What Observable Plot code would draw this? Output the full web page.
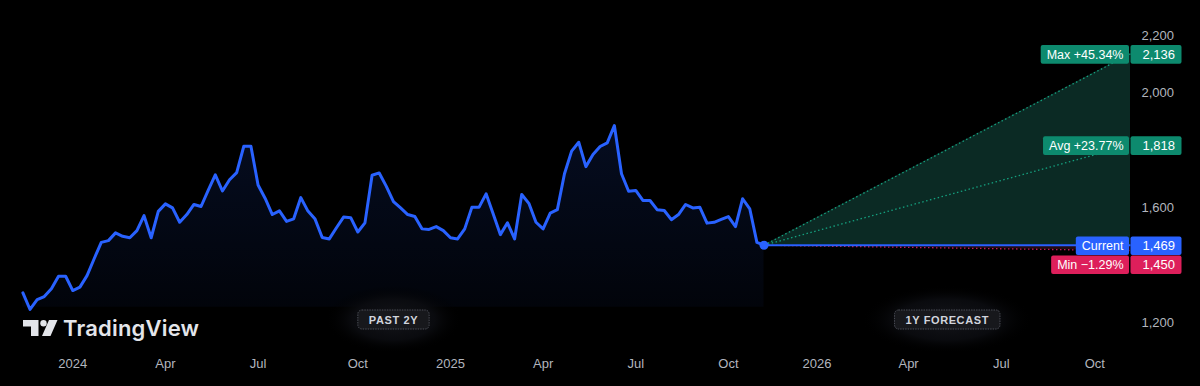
<!DOCTYPE html>
<html>
<head>
<meta charset="utf-8">
<script src="https://cdn.jsdelivr.net/npm/d3@7"></script>
<script src="https://cdn.jsdelivr.net/npm/@observablehq/plot@0.6"></script>
<style>
html, body { margin: 0; padding: 0; background: #000; }
#chart { position: relative; width: 1200px; height: 386px; overflow: hidden; background: #000; }
#chart svg { display: block; }
</style>
</head>
<body>
<div id="chart"></div>
<script>
// ---------- data ----------
const startDate = "2023-11-13";          // first weekly close shown
const prices = [
  1303, 1245, 1279, 1290, 1317, 1361, 1361, 1311, 1323, 1363,
  1422, 1479, 1485, 1512, 1500, 1495, 1520, 1572, 1495, 1587,
  1613, 1599, 1549, 1576, 1611, 1604, 1660, 1714, 1658, 1697,
  1722, 1814, 1814, 1679, 1632, 1576, 1589, 1552, 1561, 1635,
  1588, 1560, 1496, 1491, 1530, 1567, 1565, 1515, 1547, 1713,
  1721, 1674, 1621, 1599, 1576, 1569, 1526, 1524, 1534, 1520,
  1495, 1491, 1526, 1601, 1601, 1648, 1578, 1506, 1547, 1491,
  1646, 1615, 1549, 1526, 1581, 1593, 1718, 1797, 1828, 1743,
  1785, 1813, 1826, 1886, 1718, 1657, 1660, 1625, 1625, 1593,
  1590, 1558, 1576, 1611, 1599, 1601, 1546, 1549, 1559, 1569,
  1534, 1631, 1596, 1479, 1469
];
const forecastEnd = "2026-11-05";
const forecastKinds  = ["max", "avg", "current", "min"];
const forecastLabels = ["Max +45.34%", "Avg +23.77%", "Current", "Min \u22121.29%"];
const forecastValues = [2136, 1818, 1469, 1450];
const historyFloor = 1253;
const yTicks = [1200, 1600, 2000, 2200];
const xTickDates  = ["2024-01-01","2024-04-01","2024-07-01","2024-10-07","2025-01-06","2025-04-07",
                     "2025-07-07","2025-10-06","2026-01-01","2026-04-01","2026-07-01","2026-10-01"];
const xTickLabels = ["2024","Apr","Jul","Oct","2025","Apr","Jul","Oct","2026","Apr","Jul","Oct"];
const periodLabels = ["PAST 2Y", "1Y FORECAST"];

// ---------- layout / style ----------
const W = 1200, H = 386;
const mTop = 0, mBottom = 40, mLeft = 0, mRight = 70;
const xDomain = [new Date("2023-10-22"), new Date(forecastEnd)];
const yDomain = [1116, 2322];
const boxColor  = {max: "#0d8a6e", avg: "#0d8a6e", current: "#2962ff", min: "#dd1f5b"};
const lineColor = {max: "#15a07f", avg: "#15a07f", min: "#c2185b"};
const font = "'Liberation Sans', Arial, sans-serif";

// ---------- derived tables ----------
const dates = prices.map((_, i) => d3.utcDay.offset(new Date(startDate), 7 * i));
const hist = prices.map((p, i) => ({date: dates[i], price: p}));
const lastDate = dates[dates.length - 1];
const endDate = new Date(forecastEnd);
const cur = prices[prices.length - 1];
const fc = forecastKinds.map((kind, i) => ({kind, label: forecastLabels[i], value: forecastValues[i]}));
const byKind = Object.fromEntries(fc.map(d => [d.kind, d]));
const fan = [
  {date: lastDate, lo: cur, mid: cur, hi: cur},
  {date: endDate, lo: byKind.min.value, mid: cur, hi: byKind.max.value}
];
const rays = fc.filter(d => d.kind !== "current");

// label de-overlap (pixel space computed with a d3 scale mirroring Plot's y scale)
const ys = d3.scaleLinear().domain(yDomain).range([H - mBottom, mTop]);
let prev = -Infinity;
fc.forEach(d => {
  let c = ys(d.value) + 1;
  if (c < prev + 19) c = prev + 19;
  prev = c;
  d.ty = ys.invert(c);
});

const tickLabelMap = new Map(xTickDates.map((d, i) => [+new Date(d), xTickLabels[i]]));
const periods = [
  {label: periodLabels[0], date: new Date((+dates[0] + +lastDate) / 2)},
  {label: periodLabels[1], date: new Date((+lastDate + +endDate) / 2)}
];

const chart = Plot.plot({
  width: W, height: H,
  marginTop: mTop, marginBottom: mBottom, marginLeft: mLeft, marginRight: mRight,
  style: {background: "#000", fontFamily: font, overflow: "visible"},
  x: {type: "utc", domain: xDomain},
  y: {domain: yDomain},
  marks: [
    Plot.areaY(hist, {x: "date", y1: () => historyFloor, y2: "price", fill: "url(#histGrad)"}),
    Plot.areaY(fan, {x: "date", y1: "mid", y2: "hi", fill: "#0b2a24"}),
    Plot.areaY(fan, {x: "date", y1: "lo", y2: "mid", fill: "#240a12"}),
    Plot.link(rays, {x1: () => lastDate, y1: () => cur, x2: () => endDate, y2: "value",
      stroke: d => lineColor[d.kind], strokeWidth: 1.3, strokeDasharray: "1.5,2.5"}),
    Plot.link([byKind.current], {x1: () => lastDate, y1: "value", x2: () => endDate, y2: "value",
      stroke: "#2962ff", strokeWidth: 2}),
    Plot.line(hist, {x: "date", y: "price", stroke: "#2962ff", strokeWidth: 3, strokeLinejoin: "round", strokeLinecap: "round"}),
    Plot.dot([hist[hist.length - 1]], {x: "date", y: "price", r: 4.5, fill: "#2962ff"}),
    Plot.axisY({anchor: "right", ticks: yTicks, tickSize: 0, tickPadding: 11, label: null,
      tickFormat: d3.format(","), color: "#b2b5be", fontSize: 13}),
    Plot.axisX({anchor: "bottom", ticks: xTickDates.map(d => new Date(d)), tickSize: 0, tickPadding: 12, label: null,
      tickFormat: d => tickLabelMap.get(+d), color: "#b2b5be", fontSize: 13}),
    Plot.text(periods, {x: "date", frameAnchor: "bottom", dy: -23, text: "label",
      fill: "#d1d4dc", fontSize: 11, fontWeight: "bold"}),
    Plot.text(fc, {x: () => endDate, y: "ty", text: "label", textAnchor: "end", dx: -7,
      fill: "#ffffff", fontSize: 12.5}),
    Plot.text(fc, {x: () => endDate, y: "ty", text: d => d3.format(",")(d.value), textAnchor: "start", dx: 12,
      fill: "#ffffff", fontSize: 13})
  ]
});

document.getElementById("chart").appendChild(chart);
const svg = d3.select(chart);

// gradient defs
const defs = svg.insert("defs", ":first-child");
const g1 = defs.append("linearGradient").attr("id", "histGrad").attr("x1", 0).attr("y1", 0).attr("x2", 0).attr("y2", 1);
g1.append("stop").attr("offset", "0%").attr("stop-color", "#2962ff").attr("stop-opacity", 0.13);
g1.append("stop").attr("offset", "100%").attr("stop-color", "#2962ff").attr("stop-opacity", 0.04);
const rg = defs.append("radialGradient").attr("id", "halo");
rg.append("stop").attr("offset", "0%").attr("stop-color", "#14151a").attr("stop-opacity", 1);
rg.append("stop").attr("offset", "60%").attr("stop-color", "#0b0c10").attr("stop-opacity", 0.9);
rg.append("stop").attr("offset", "100%").attr("stop-color", "#000").attr("stop-opacity", 0);

const xScale = chart.scale("x");
const yScale = chart.scale("y");
const svgRect = chart.getBoundingClientRect();
const rel = el => {
  const r = el.getBoundingClientRect();
  return {x: r.left - svgRect.left, y: r.top - svgRect.top, w: r.width, h: r.height};
};

// the three text marks, in mark order: period badges, forecast labels, forecast values
const textGroups = chart.querySelectorAll('g[aria-label="text"]');
const periodG = textGroups[0], labelG = textGroups[1];

// forecast label boxes
const boxG = svg.insert("g", () => labelG);
const xEnd = xScale.apply(endDate);
labelG.querySelectorAll("text").forEach((t, i) => {
  const d = fc[i];
  const b = rel(t);
  const cy = yScale.apply(d.ty);
  boxG.append("rect").attr("x", b.x - 6).attr("y", cy - 9.3).attr("width", xEnd - 1 - (b.x - 6))
    .attr("height", 18.6).attr("rx", 2).attr("fill", boxColor[d.kind]);
  boxG.append("rect").attr("x", xEnd + 0.5).attr("y", cy - 9.3).attr("width", 51)
    .attr("height", 18.6).attr("rx", 2).attr("fill", boxColor[d.kind]);
});

// period badges
periodG.setAttribute("letter-spacing", "0.6");
const badgeG = svg.insert("g", () => periodG);
periodG.querySelectorAll("text").forEach(t => {
  const b = rel(t);
  const cx = b.x + b.w / 2, cy = b.y + b.h / 2;
  badgeG.append("ellipse").attr("cx", cx).attr("cy", cy).attr("rx", b.w / 2 + 44).attr("ry", 34).attr("fill", "url(#halo)");
  badgeG.append("rect").attr("x", b.x - 11).attr("y", cy - 9.5).attr("width", b.w + 22).attr("height", 19)
    .attr("rx", 4).attr("fill", "#17181c").attr("stroke", "#4a4c55").attr("stroke-width", 1).attr("stroke-dasharray", "1.5,1");
});

// TradingView logo
const logo = svg.append("g").attr("fill", "#e3e5ea");
logo.append("path").attr("d", "M23,320 H38.5 V336 H31 V326.5 H23 Z");
logo.append("circle").attr("cx", 43.5).attr("cy", 323.2).attr("r", 3.2);
logo.append("path").attr("d", "M49,320 H57.5 L50.5,336 H42 Z");
logo.append("text").attr("x", 63).attr("y", 336).attr("text-anchor", "start")
  .attr("font-family", "Inter, 'Open Sans', sans-serif")
  .attr("font-weight", 600).attr("font-size", 22).attr("letter-spacing", 0.2).text("TradingView");
</script>
</body>
</html>
